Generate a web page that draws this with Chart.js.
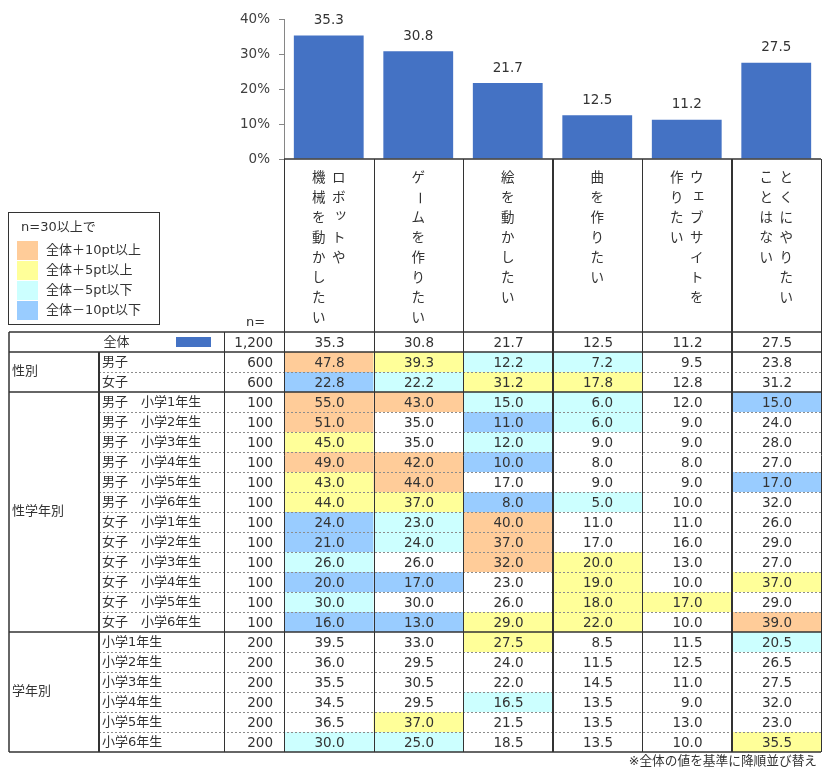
<!DOCTYPE html>
<html lang="ja">
<head>
<meta charset="utf-8">
<title>やってみたいこと</title>
<script src="https://cdn.jsdelivr.net/npm/chart.js@4.4.1/dist/chart.umd.min.js"></script>
<style>
    body { margin: 0; background: #fff; }
    #wrap { position: relative; width: 829px; height: 777px; }
</style>
</head>
<body>
<div id="wrap"><canvas id="chart"></canvas></div>
<script>
// 1. DATA
const categories = [
    ['ロボットや', '機械を動かしたい'],
    ['ゲームを作りたい'],
    ['絵を動かしたい'],
    ['曲を作りたい'],
    ['ウェブサイトを', '作りたい'],
    ['とくにやりたい', 'ことはない']
];
const yTicks = [0, 10, 20, 30, 40];

const totalLabel = '全体';
const totalN = 1200;
const totalValues = [35.3, 30.8, 21.7, 12.5, 11.2, 27.5];

const genderLabels = ['男子', '女子'];
const genderN = [600, 600];
const genderValues = [
    [47.8, 39.3, 12.2, 7.2, 9.5, 23.8],
    [22.8, 22.2, 31.2, 17.8, 12.8, 31.2]
];

const genderGradeLabels = [
    '男子　小学1年生', '男子　小学2年生', '男子　小学3年生', '男子　小学4年生', '男子　小学5年生', '男子　小学6年生',
    '女子　小学1年生', '女子　小学2年生', '女子　小学3年生', '女子　小学4年生', '女子　小学5年生', '女子　小学6年生'
];
const genderGradeN = [100, 100, 100, 100, 100, 100, 100, 100, 100, 100, 100, 100];
const genderGradeValues = [
    [55.0, 43.0, 15.0, 6.0, 12.0, 15.0],
    [51.0, 35.0, 11.0, 6.0, 9.0, 24.0],
    [45.0, 35.0, 12.0, 9.0, 9.0, 28.0],
    [49.0, 42.0, 10.0, 8.0, 8.0, 27.0],
    [43.0, 44.0, 17.0, 9.0, 9.0, 17.0],
    [44.0, 37.0, 8.0, 5.0, 10.0, 32.0],
    [24.0, 23.0, 40.0, 11.0, 11.0, 26.0],
    [21.0, 24.0, 37.0, 17.0, 16.0, 29.0],
    [26.0, 26.0, 32.0, 20.0, 13.0, 27.0],
    [20.0, 17.0, 23.0, 19.0, 10.0, 37.0],
    [30.0, 30.0, 26.0, 18.0, 17.0, 29.0],
    [16.0, 13.0, 29.0, 22.0, 10.0, 39.0]
];

const gradeLabels = ['小学1年生', '小学2年生', '小学3年生', '小学4年生', '小学5年生', '小学6年生'];
const gradeN = [200, 200, 200, 200, 200, 200];
const gradeValues = [
    [39.5, 33.0, 27.5, 8.5, 11.5, 20.5],
    [36.0, 29.5, 24.0, 11.5, 12.5, 26.5],
    [35.5, 30.5, 22.0, 14.5, 11.0, 27.5],
    [34.5, 29.5, 16.5, 13.5, 9.0, 32.0],
    [36.5, 37.0, 21.5, 13.5, 13.0, 23.0],
    [30.0, 25.0, 18.5, 13.5, 10.0, 35.5]
];

const legendTitle = 'n=30以上で';
const legendLabels = ['全体＋10pt以上', '全体＋5pt以上', '全体－5pt以下', '全体－10pt以下'];
const footnote = '※全体の値を基準に降順並び替え';

const groups = [
    { name: '性別', labels: genderLabels, n: genderN, values: genderValues },
    { name: '性学年別', labels: genderGradeLabels, n: genderGradeN, values: genderGradeValues },
    { name: '学年別', labels: gradeLabels, n: gradeN, values: gradeValues }
];

// 2. STYLE
const FONT = '"DejaVu Sans", "Noto Sans CJK JP", sans-serif';
const TEXT = '#333333';
const LINE = '#333333';
const BAR = '#4472C4';
const FILLS = ['#FFCC99', '#FFFF99', '#CCFFFF', '#99CCFF'];
const ROW_H = 20;
const HEAD_H = 173;
const X_GROUP = 9, X_LABEL = 99, X_N = 224;

Chart.defaults.font.family = FONT;
Chart.defaults.color = TEXT;

const cellFill = (v, base, n) => {
    if (n < 30) return null;
    const d = Math.round((v - base) * 10) / 10;
    if (d >= 10) return FILLS[0];
    if (d >= 5) return FILLS[1];
    if (d <= -10) return FILLS[3];
    if (d <= -5) return FILLS[2];
    return null;
};

const text = (ctx, s, x, y, align = 'left', size = 13) => {
    ctx.font = `${size}px ${FONT}`;
    ctx.textAlign = align;
    ctx.textBaseline = 'middle';
    ctx.fillStyle = TEXT;
    ctx.fillText(s, x, y);
};

const line = (ctx, x1, y1, x2, y2, color = LINE, width = 1, dash = []) => {
    ctx.save();
    ctx.strokeStyle = color;
    ctx.lineWidth = width;
    ctx.setLineDash(dash);
    const o = width % 2 === 1 ? 0.5 : 0;
    ctx.beginPath();
    ctx.moveTo(Math.round(x1) + (x1 === x2 ? o : 0), Math.round(y1) + (y1 === y2 ? o : 0));
    ctx.lineTo(Math.round(x2) + (x1 === x2 ? o : 0), Math.round(y2) + (y1 === y2 ? o : 0));
    ctx.stroke();
    ctx.restore();
};

// vertical writing, one glyph at a time
const SMALL = 'ッェャュョァィゥォっゃゅょ';
const verticalText = (ctx, s, x, y, step) => {
    [...s].forEach((ch, i) => {
        const cy = y + i * step;
        if (ch === 'ー') {
            ctx.save();
            ctx.translate(x, cy);
            ctx.rotate(Math.PI / 2);
            text(ctx, ch, 0, 0, 'center', 13.5);
            ctx.restore();
        } else if (SMALL.includes(ch)) {
            text(ctx, ch, x + 2, cy - 3, 'center', 13.5);
        } else {
            text(ctx, ch, x, cy, 'center', 13.5);
        }
    });
};

// 3. PLUGINS
const barLabels = {
    id: 'barLabels',
    afterDatasetsDraw(chart) {
        const ctx = chart.ctx;
        chart.getDatasetMeta(0).data.forEach((bar, i) => {
            text(ctx, totalValues[i].toFixed(1), bar.x, bar.y - 15, 'center', 13.5);
        });
    }
};

const tablePlugin = {
    id: 'tablePlugin',
    afterDraw(chart) {
        const ctx = chart.ctx;
        const xs = chart.scales.x;
        const area = chart.chartArea;
        const colW = (area.right - area.left) / categories.length;
        const bounds = categories.map((c, i) => xs.getPixelForValue(i) - colW / 2).concat(area.right);
        const headTop = area.bottom;
        const tableTop = headTop + HEAD_H;

        const rows = [{ label: totalLabel, n: totalN, values: totalValues, total: true }];
        groups.forEach(g => g.labels.forEach((label, i) => {
            rows.push({ label, n: g.n[i], values: g.values[i], first: i === 0 });
        }));
        const bottom = tableTop + rows.length * ROW_H;

        // cell colours
        rows.forEach((r, ri) => {
            if (r.total) return;
            r.values.forEach((v, c) => {
                const fill = cellFill(v, totalValues[c], r.n);
                if (!fill) return;
                ctx.fillStyle = fill;
                ctx.fillRect(bounds[c], tableTop + ri * ROW_H, bounds[c + 1] - bounds[c], ROW_H);
            });
        });

        // dashed row separators inside groups
        rows.forEach((r, ri) => {
            if (r.total || r.first) return;
            const y = tableTop + ri * ROW_H;
            line(ctx, X_LABEL, y, area.right, y, '#8c8c8c', 1, [2, 2]);
        });

        // solid horizontal lines
        line(ctx, area.left, headTop, area.right, headTop, LINE, 1.5);
        let y = tableTop;
        line(ctx, X_GROUP, y, area.right, y, LINE, 1.5);
        y += ROW_H;
        line(ctx, X_GROUP, y, area.right, y, LINE, 1.5);
        groups.forEach(g => {
            y += g.labels.length * ROW_H;
            line(ctx, X_GROUP, y, area.right, y, LINE, 1.5);
        });

        // vertical lines
        line(ctx, X_GROUP, tableTop, X_GROUP, bottom, LINE, 1.5);
        line(ctx, X_LABEL, tableTop + ROW_H, X_LABEL, bottom, LINE, 2);
        line(ctx, X_N, tableTop, X_N, bottom, LINE, 1);
        bounds.forEach((bx, i) => {
            line(ctx, bx, headTop, bx, bottom, LINE, (i === 3 || i === 5) ? 2 : 1);
        });

        // header labels (vertical)
        categories.forEach((lines, i) => {
            const cx = xs.getPixelForValue(i);
            lines.forEach((s, k) => {
                const lx = lines.length === 1 ? cx : cx + 10 - k * 20;
                verticalText(ctx, s, lx, headTop + 19, 20);
            });
        });
        text(ctx, 'n=', 246, tableTop - 9, 'left', 13);

        // row texts
        rows.forEach((r, ri) => {
            const cy = tableTop + ri * ROW_H + ROW_H / 2 + 1;
            if (r.total) {
                text(ctx, r.label, (X_GROUP + X_N) / 2, cy, 'center');
                ctx.fillStyle = BAR;
                ctx.fillRect(176, cy - 6, 35, 10);
            } else {
                text(ctx, r.label, X_LABEL + 3, cy);
            }
            text(ctx, r.n.toLocaleString('en-US'), area.left - 11, cy, 'right', 13.5);
            r.values.forEach((v, c) => {
                text(ctx, v.toFixed(1), bounds[c + 1] - 29, cy, 'right', 13.5);
            });
        });

        // group names
        let gy = tableTop + ROW_H;
        groups.forEach(g => {
            const h = g.labels.length * ROW_H;
            text(ctx, g.name, X_GROUP + 3, gy + h / 2, 'left');
            gy += h;
        });

        // legend box
        ctx.save();
        ctx.strokeStyle = LINE;
        ctx.lineWidth = 1;
        ctx.strokeRect(8.5, 212.5, 151, 112);
        ctx.restore();
        text(ctx, legendTitle, 21, 228);
        legendLabels.forEach((s, i) => {
            ctx.fillStyle = FILLS[i];
            ctx.fillRect(17, 241 + i * 20, 21, 19);
            text(ctx, s, 46, 251 + i * 20);
        });

        // note
        text(ctx, footnote, 817, bottom + 10, 'right', 12.7);
    }
};

// 4. CHART
const ctx = document.getElementById('chart').getContext('2d');
new Chart(ctx, {
    type: 'bar',
    data: {
        labels: categories.map(c => c.join('')),
        datasets: [{
            data: totalValues,
            backgroundColor: BAR,
            barPercentage: 0.78,
            categoryPercentage: 1
        }]
    },
    options: {
        responsive: true,
        maintainAspectRatio: false,
        animation: false,
        layout: { padding: { left: 0, right: 8, top: 19, bottom: 618 } },
        plugins: {
            legend: { display: false },
            tooltip: { enabled: false }
        },
        scales: {
            x: { display: false },
            y: {
                min: yTicks[0],
                max: yTicks[yTicks.length - 1],
                afterFit: s => { s.width = 284; },
                ticks: {
                    stepSize: yTicks[1] - yTicks[0],
                    callback: v => v + '%',
                    color: '#404040',
                    font: { size: 13.5 },
                    padding: 9
                },
                grid: { drawOnChartArea: false, tickLength: 5, color: '#868686' },
                border: { color: '#868686' }
            }
        }
    },
    plugins: [barLabels, tablePlugin]
});
</script>
</body>
</html>
